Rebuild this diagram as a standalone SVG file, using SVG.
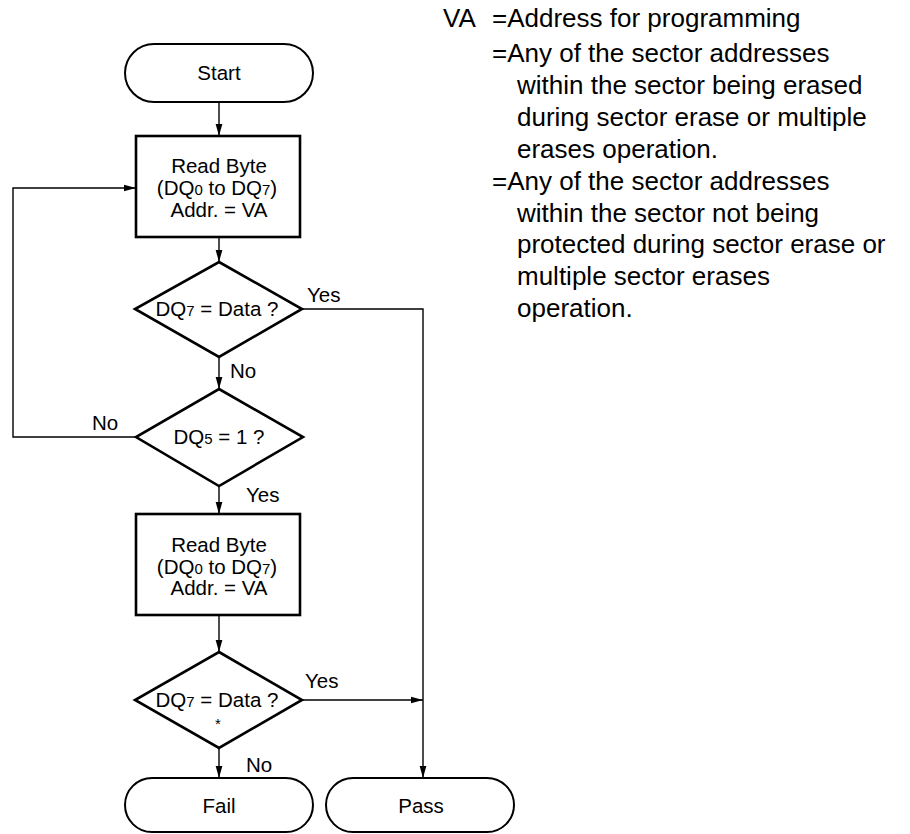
<svg xmlns="http://www.w3.org/2000/svg" width="910" height="834" viewBox="0 0 910 834">
<style>
  .term { fill: #fff; stroke: #000; stroke-width: 2; }
  .proc { fill: #fff; stroke: #000; stroke-width: 2.6; }
  .dec { fill: #fff; stroke: #000; stroke-width: 2.6; stroke-linejoin: miter; }
  .conn { fill: none; stroke: #000; stroke-width: 1.4; }
  .t { font-family: "Liberation Sans", Arial, sans-serif; font-size: 20.5px; fill: #000; }
  .c { text-anchor: middle; }
  .sub { font-size: 15px; }
  .note { font-family: "Liberation Sans", Arial, sans-serif; font-size: 26px; fill: #000; }
</style>
<defs>
  <marker id="arr" markerWidth="13" markerHeight="8" refX="12.5" refY="4" orient="auto" markerUnits="userSpaceOnUse">
    <path d="M0,0.5 L12.5,4 L0,7.5 z" fill="#000"/>
  </marker>
</defs>
<rect width="910" height="834" fill="#fff"/>

<g id="connectors">
  <line class="conn" x1="219" y1="102" x2="219" y2="136" marker-end="url(#arr)"/>
  <line class="conn" x1="219" y1="237" x2="219" y2="262" marker-end="url(#arr)"/>
  <polyline class="conn" points="302,309 423,309 423,778" marker-end="url(#arr)"/>
  <line class="conn" x1="219" y1="357" x2="219" y2="389" marker-end="url(#arr)"/>
  <polyline class="conn" points="136,437 13,437 13,188 136,188" marker-end="url(#arr)"/>
  <line class="conn" x1="219" y1="486" x2="219" y2="514" marker-end="url(#arr)"/>
  <line class="conn" x1="219" y1="615" x2="219" y2="652" marker-end="url(#arr)"/>
  <line class="conn" x1="302" y1="700" x2="423" y2="700" marker-end="url(#arr)"/>
  <line class="conn" x1="219" y1="748" x2="219" y2="778" marker-end="url(#arr)"/>
  <text class="t" x="307" y="302">Yes</text>
  <text class="t" x="230" y="378">No</text>
  <text class="t" x="92" y="430">No</text>
  <text class="t" x="246" y="502">Yes</text>
  <text class="t" x="305" y="688">Yes</text>
  <text class="t" x="246" y="772">No</text>
</g>

<g id="start">
  <rect class="term" x="125" y="44" width="188" height="58" rx="29" ry="29"/>
  <text class="t c" x="219" y="80">Start</text>
</g>

<g id="read1">
  <rect class="proc" x="136" y="136" width="164" height="101"/>
  <text class="t c" x="219" y="173">Read Byte</text>
  <text class="t c" x="217" y="195">(DQ<tspan class="sub">0</tspan> to DQ<tspan class="sub">7</tspan>)</text>
  <text class="t c" x="219" y="217">Addr. = VA</text>
</g>

<g id="dec1">
  <polygon class="dec" points="219,262 302,309 219,357 135,309"/>
  <text class="t c" x="217" y="316">DQ<tspan class="sub">7</tspan> = Data ?</text>
</g>

<g id="dec2">
  <polygon class="dec" points="219,389 303,437 219,486 136,437"/>
  <text class="t c" x="219" y="444">DQ<tspan class="sub">5</tspan> = 1 ?</text>
</g>

<g id="read2">
  <rect class="proc" x="136" y="514" width="164" height="101"/>
  <text class="t c" x="219" y="552">Read Byte</text>
  <text class="t c" x="217" y="574">(DQ<tspan class="sub">0</tspan> to DQ<tspan class="sub">7</tspan>)</text>
  <text class="t c" x="219" y="595">Addr. = VA</text>
</g>

<g id="dec3">
  <polygon class="dec" points="219,652 302,700 219,748 135,700"/>
  <text class="t c" x="217" y="707">DQ<tspan class="sub">7</tspan> = Data ?</text>
  <text class="t c" x="218" y="729" style="font-size:15px">*</text>
</g>

<g id="fail">
  <rect class="term" x="125" y="778" width="188" height="54" rx="27" ry="27"/>
  <text class="t c" x="219" y="813">Fail</text>
</g>

<g id="pass">
  <rect class="term" x="326" y="778" width="188" height="54" rx="27" ry="27"/>
  <text class="t c" x="421" y="813">Pass</text>
</g>

<g id="notes">
  <text class="note" x="443" y="27">VA</text>
  <text class="note" x="492" y="27">=Address for programming</text>
  <text class="note" x="492" y="62">=Any of the sector addresses</text>
  <text class="note" x="517" y="94">within the sector being erased</text>
  <text class="note" x="517" y="126">during sector erase or multiple</text>
  <text class="note" x="517" y="158">erases operation.</text>
  <text class="note" x="492" y="190">=Any of the sector addresses</text>
  <text class="note" x="517" y="222">within the sector not being</text>
  <text class="note" x="517" y="253">protected during sector erase or</text>
  <text class="note" x="517" y="285">multiple sector erases</text>
  <text class="note" x="517" y="317">operation.</text>
</g>
</svg>
